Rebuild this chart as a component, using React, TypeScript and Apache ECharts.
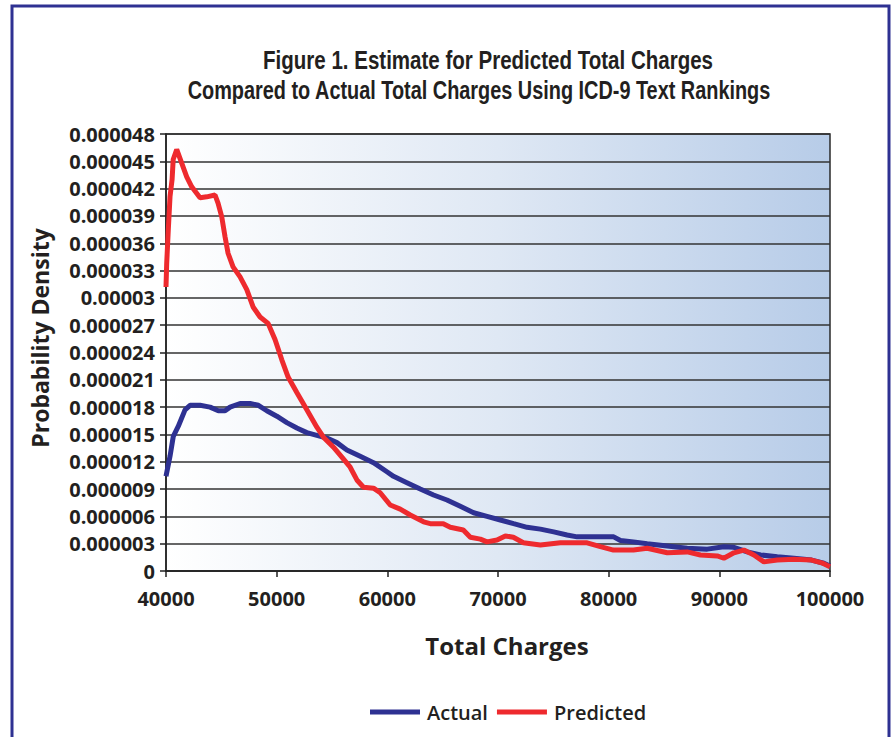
import React, { useEffect, useRef } from "react";
import * as echarts from "echarts";

const titleLines = [
  "Figure 1. Estimate for Predicted Total Charges",
  "Compared to Actual Total Charges Using ICD-9 Text Rankings",
];
const xAxisTitle = "Total Charges";
const yAxisTitle = "Probability Density";
const seriesNames = ["Actual", "Predicted"];

const xTickLabels = ["40000", "50000", "60000", "70000", "80000", "90000", "100000"];
const yTickLabels = [
  "0", "0.000003", "0.000006", "0.000009", "0.000012", "0.000015", "0.000018",
  "0.000021", "0.000024", "0.000027", "0.00003", "0.000033", "0.000036",
  "0.000039", "0.000042", "0.000045", "0.000048",
];

const actualX = [
  40000, 40362, 40660, 41113, 41719, 42171, 43075, 43980, 44730, 45337, 45789,
  46693, 47598, 48349, 49108, 50013, 50917, 51822, 52726, 53631, 54535, 55440,
  56344, 57547, 58750, 59962, 60559, 61771, 62974, 64177, 65389, 66592, 67795,
  69007, 70210, 71414, 72626, 73829, 75032, 76244, 77148, 78650, 80459, 81065,
  82241, 83480, 85289, 87098, 88907, 90408, 91313, 92525, 93728, 95238, 96740,
  98340, 99450, 100000,
];
const actualY = [
  10.4, 12.6, 14.8, 15.9, 17.7, 18.2, 18.2, 18.0, 17.6, 17.6, 18.0,
  18.4, 18.4, 18.2, 17.6, 17.0, 16.3, 15.7, 15.2, 14.9, 14.6, 14.1,
  13.3, 12.6, 11.9, 10.9, 10.4, 9.7, 9.0, 8.35, 7.8, 7.1, 6.4,
  6.0, 5.6, 5.2, 4.8, 4.6, 4.3, 3.96, 3.75, 3.75, 3.75, 3.35,
  3.2, 3.0, 2.75, 2.5, 2.4, 2.67, 2.6, 2.1, 1.76, 1.57, 1.4,
  1.2, 0.85, 0.55,
];

const predictedX = [
  40000, 40063, 40208, 40362, 40550, 40650, 40968, 41420, 41872, 42325, 43075,
  43681, 44432, 44703, 45038, 45337, 45608, 46060, 46693, 47300, 47870, 48502,
  49226, 49860, 50465, 51035, 51822, 52726, 53631, 54228, 55132, 55892, 56643,
  57249, 57846, 58750, 59356, 60260, 61165, 62070, 63273, 63878, 65055, 65688,
  66864, 67498, 68402, 69007, 69912, 70663, 71386, 72291, 73829, 75637, 78052,
  79255, 80431, 82241, 83480, 85289, 87098, 88300, 89811, 90408, 91313, 92217,
  93122, 94026, 95238, 96740, 98340, 99245, 100000,
];
const predictedY = [
  31.2, 33.8, 37.5, 41.1, 43.0, 45.2, 46.3, 44.8, 43.3, 42.2, 41.0,
  41.1, 41.3, 40.4, 38.9, 36.7, 34.9, 33.4, 32.3, 30.9, 29.0, 27.9,
  27.2, 25.4, 23.2, 21.3, 19.6, 17.7, 15.8, 14.7, 13.6, 12.5, 11.4,
  10.0, 9.2, 9.1, 8.6, 7.25, 6.8, 6.15, 5.4, 5.2, 5.2, 4.8,
  4.5, 3.7, 3.5, 3.2, 3.4, 3.85, 3.7, 3.1, 2.85, 3.1, 3.1,
  2.67, 2.3, 2.3, 2.5, 2.0, 2.1, 1.76, 1.65, 1.4, 2.0, 2.3,
  1.76, 1.0, 1.2, 1.3, 1.2, 0.9, 0.47,
];

const SCALE = 1e-6; // values above are in millionths

export default function App() {
  const ref = useRef<HTMLDivElement>(null);

  useEffect(() => {
    document.body.style.margin = "0";
    if (!ref.current) return;
    const chart = echarts.init(ref.current, undefined, { renderer: "svg" });

    const actualData = actualX.map((x, i) => [x, actualY[i] * SCALE]);
    const predictedData = predictedX.map((x, i) => [x, predictedY[i] * SCALE]);

    const labelFont = "'Open Sans', 'Noto Sans', sans-serif";
    const titleFont = "'Liberation Sans', Arial, sans-serif";
    const textColor = "#231f20";

    chart.setOption({
      animation: false,
      backgroundColor: "#ffffff",
      grid: {
        left: 166,
        right: 64,
        top: 134,
        bottom: 166,
        show: true,
        backgroundColor: new echarts.graphic.LinearGradient(0, 0, 1, 0, [
          { offset: 0, color: "#ffffff" },
          { offset: 0.5, color: "#dfe8f4" },
          { offset: 1, color: "#b7cce8" },
        ]),
        borderColor: "#2a2a2a",
        borderWidth: 1.5,
      },
      legend: {
        data: seriesNames,
        left: 365,
        top: 697,
        icon: "rect",
        itemWidth: 50,
        itemHeight: 5,
        itemGap: 9,
        textStyle: {
          fontFamily: labelFont,
          fontWeight: 600,
          fontSize: 20,
          color: textColor,
          padding: [0, 0, 0, 2],
        },
      },
      xAxis: {
        type: "value",
        min: 40000,
        max: 100000,
        interval: 10000,
        splitLine: { show: false },
        axisLine: { show: true, onZero: false, lineStyle: { color: "#222", width: 1.5 } },
        axisTick: { show: true, length: 6, lineStyle: { color: "#222", width: 1.5 } },
        axisLabel: {
          margin: 17,
          lineHeight: 20,
          fontFamily: labelFont,
          fontWeight: "bold",
          fontSize: 20,
          color: textColor,
          formatter: (_v: number, i: number) => xTickLabels[i],
        },
      },
      yAxis: {
        type: "value",
        min: 0,
        max: 0.000048,
        interval: 0.000003,
        splitLine: { show: true, lineStyle: { color: "#333", width: 1.5 } },
        axisLine: { show: true, lineStyle: { color: "#222", width: 1.5 } },
        axisTick: { show: true, length: 6, lineStyle: { color: "#222", width: 1.5 } },
        axisLabel: {
          margin: 11,
          lineHeight: 20,
          fontFamily: labelFont,
          fontWeight: "bold",
          fontSize: 20,
          color: textColor,
          formatter: (_v: number, i: number) => yTickLabels[i],
        },
      },
      series: [
        {
          name: seriesNames[0],
          type: "line",
          data: actualData,
          showSymbol: false,
          symbol: "none",
          lineStyle: { color: "#2e3192", width: 5 },
          itemStyle: { color: "#2e3192" },
          z: 2,
        },
        {
          name: seriesNames[1],
          type: "line",
          data: predictedData,
          showSymbol: false,
          symbol: "none",
          lineStyle: { color: "#ee2a2e", width: 5 },
          itemStyle: { color: "#ee2a2e" },
          z: 3,
        },
      ],
      graphic: [
        {
          type: "rect",
          shape: { x: 12, y: 6, width: 877, height: 760 },
          style: { fill: "none", stroke: "#2e3192", lineWidth: 3 },
          silent: true,
          z: 100,
        },
        {
          type: "text",
          x: 488,
          y: 60,
          scaleX: 0.79,
          style: {
            text: titleLines[0],
            textAlign: "center",
            textVerticalAlign: "middle",
            fontFamily: titleFont,
            fontWeight: "bold",
            fontSize: 26,
            fill: textColor,
          },
        },
        {
          type: "text",
          x: 479,
          y: 90,
          scaleX: 0.765,
          style: {
            text: titleLines[1],
            textAlign: "center",
            textVerticalAlign: "middle",
            fontFamily: titleFont,
            fontWeight: "bold",
            fontSize: 26,
            fill: textColor,
          },
        },
        {
          type: "text",
          x: 507,
          y: 645,
          style: {
            text: xAxisTitle,
            textAlign: "center",
            textVerticalAlign: "middle",
            fontFamily: labelFont,
            fontWeight: "bold",
            fontSize: 24,
            fill: textColor,
          },
        },
        {
          type: "text",
          x: 40,
          y: 338,
          rotation: Math.PI / 2,
          style: {
            text: yAxisTitle,
            textAlign: "center",
            textVerticalAlign: "middle",
            fontFamily: labelFont,
            fontWeight: "bold",
            fontSize: 23,
            fill: textColor,
          },
        },
      ],
    });

    return () => chart.dispose();
  }, []);

  return <div ref={ref} style={{ width: 894, height: 737 }} />;
}
